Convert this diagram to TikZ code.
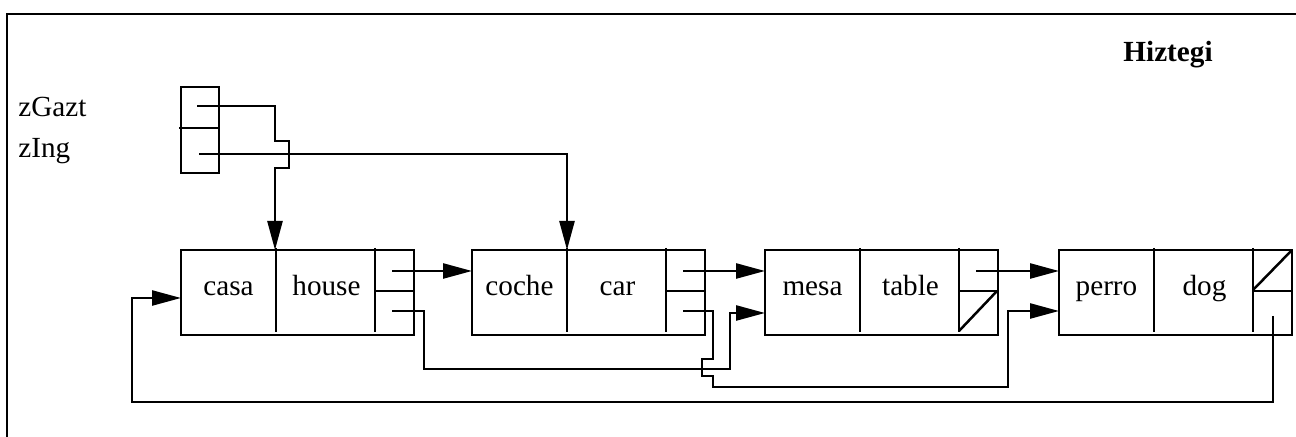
\documentclass[tikz,border=0pt]{standalone}
\usepackage{fontspec}
\setmainfont{Liberation Serif}
\usetikzlibrary{arrows.meta,calc}
\tikzset{
  rec/.style={draw, line width=1.25pt, minimum width=116.5pt, minimum height=42.5pt,
              inner sep=0pt, outer sep=0pt, anchor=north west},
  cell/.style={line width=1.25pt},
  link/.style={line width=1.25pt, -{Triangle[length=14.5pt,width=7.5pt]}},
  word/.style={font=\fontsize{14.6}{17}\selectfont, anchor=base, inner sep=0pt},
  frame/.style={line width=0.8pt},
}
% one dictionary entry: name, left x, Spanish word, English word
\newcommand\drawrecord[4]{%
  \node[rec] (#1) at (#2,250) {};
  \draw[cell] ($(#1.north west)+(95,-2)$) -- ($(#1.north west)+(95,82)$);
  \draw[cell] ($(#1.north west)+(194,-2)$) -- ($(#1.north west)+(194,82)$);
  \draw[cell] ($(#1.north west)+(194,41)$) -- ($(#1.north east)+(0,41)$);
  \node[word] (#1-a) at ($(#1.north west)+(47.5,46)$) {#3};
  \node[word] (#1-b) at ($(#1.north west)+(145.5,46)$) {#4};
  \coordinate (#1-next) at ($(#1.north west)+(211,21)$);
  \coordinate (#1-ing) at ($(#1.north west)+(211,61)$);
}
\begin{document}
\begin{tikzpicture}[x=0.5pt,y=-0.5pt]
\useasboundingbox (0,0) rectangle (1296,437);
\draw[frame] (7,437) -- (7,14) -- (1296,14);

\node[word, anchor=base east, font=\fontsize{14.6}{17}\selectfont\bfseries] (title) at (1213,62) {Hiztegi};
\node[word, anchor=base west] (lgazt) at (18,117) {zGazt};
\node[word, anchor=base west] (ling) at (18,158) {zIng};

% head pointers
\node[draw, line width=1.25pt, minimum width=19pt, minimum height=43pt,
      inner sep=0pt, outer sep=0pt, anchor=north west] (heads) at (181,87) {};
\draw[cell] (179,128) -- (heads.east |- 0,128);
\coordinate (hg) at (197,106);
\coordinate (hi) at (199,154);

\drawrecord{casa}{181}{casa}{house}
\drawrecord{coche}{472}{coche}{car}
\drawrecord{mesa}{765}{mesa}{table}
\drawrecord{perro}{1059}{perro}{dog}

% null pointers
\draw[cell] ($(perro.north west)+(194,40)$) -- (perro.north east);
\draw[cell] ($(mesa.north west)+(194,81)$) -- ($(mesa.north east)+(-1,41)$);

% Spanish order
\draw[link] (hg) -- (275,106) -- (275,141) -- (289,141) -- (289,168) -- (275,168)
  coordinate (j4) -- (j4 |- casa.north);
\draw[link] (casa-next) -- (casa-next -| coche.west);
\draw[link] (coche-next) -- (coche-next -| mesa.west);
\draw[link] (mesa-next) -- (mesa-next -| perro.west);

% English order
\draw[link] (hi) -- (567,154) coordinate (j5) -- (j5 |- coche.north);
\draw[link] (coche-ing) -- (713,311) -- (713,359) -- (702,359) -- (702,376) -- (713,376)
  -- (713,387) -- (1008,387) -- (1008,311) coordinate (j2) -- (j2 -| perro.west);
\coordinate (perro-back) at ($(perro.north west)+(214,66)$);
\draw[link] (perro-back) -- (1273,402) -- (132,402) -- (132,298) coordinate (j3) -- (j3 -| casa.west);
\draw[link] (casa-ing) -- (424,311) -- (424,369) -- (730,369) -- (730,313) coordinate (j1) -- (j1 -| mesa.west);
\end{tikzpicture}
\end{document}
